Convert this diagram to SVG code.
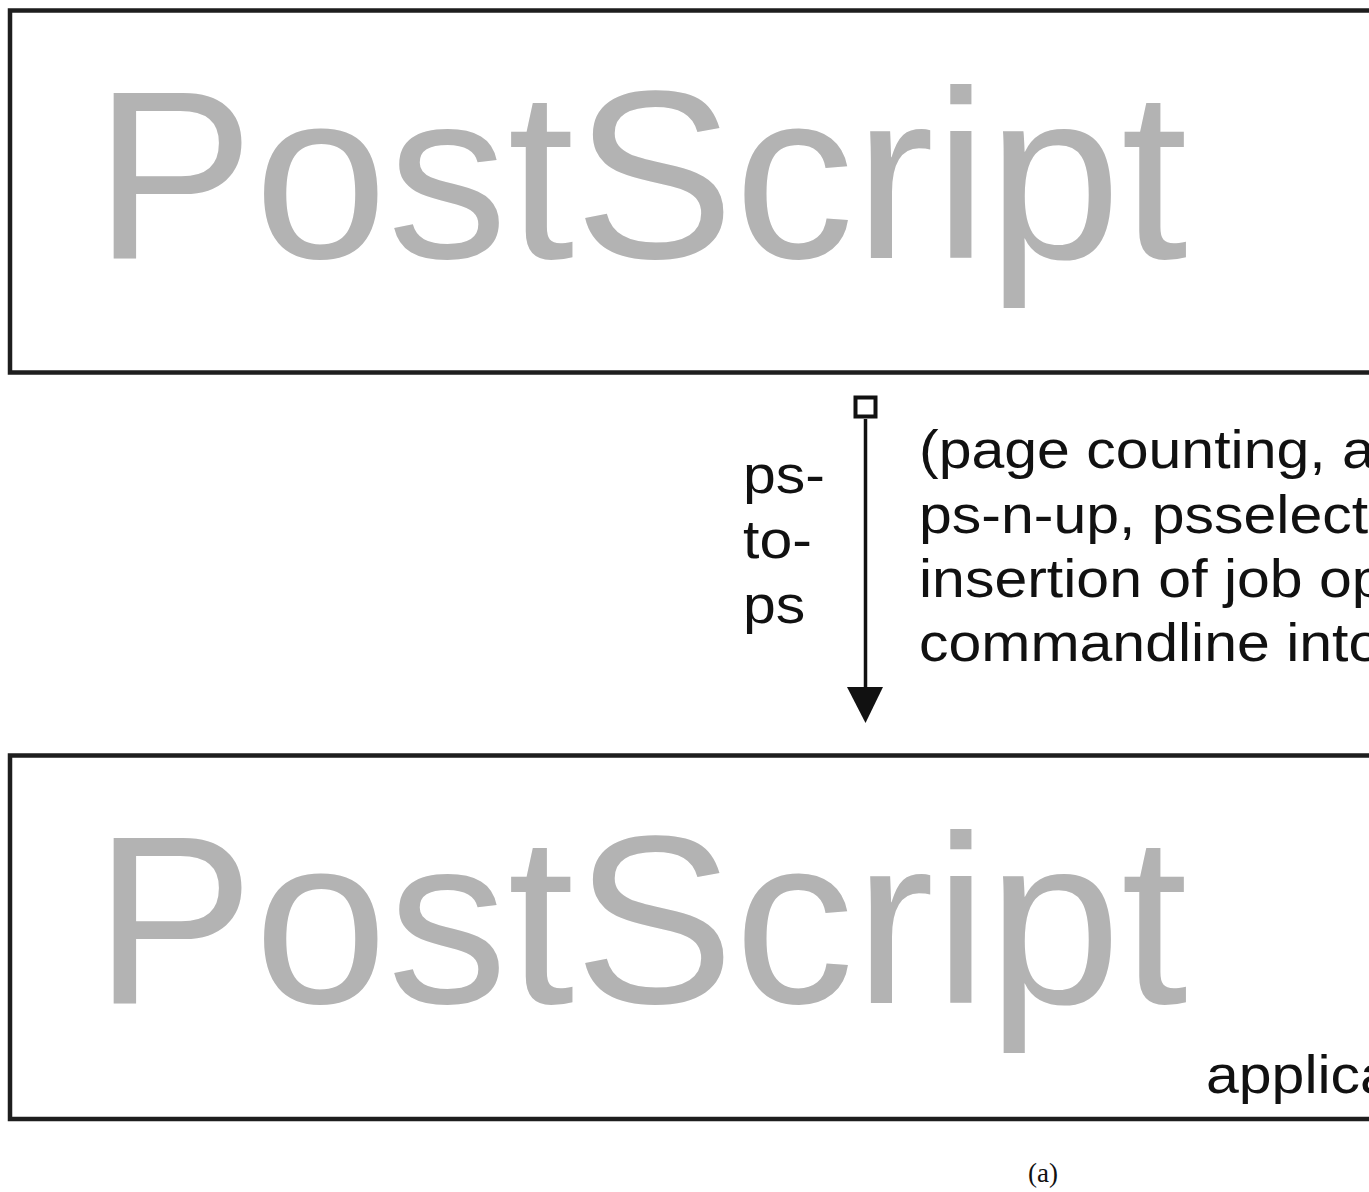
<svg xmlns="http://www.w3.org/2000/svg" width="1369" height="1192" viewBox="0 0 1369 1192">
<defs>
<style>
.box{fill:#fff;stroke:#1e1e1e;stroke-width:4.5}
.big{font-family:"Liberation Sans",Arial,sans-serif;font-size:240px;fill:#b3b3b3}
.lbl{font-family:"Liberation Sans",Arial,sans-serif;font-size:59px;fill:#111}
.cap{font-family:"Liberation Serif","Times New Roman",serif;font-size:27px;fill:#111}
</style>
</defs>
<rect width="1369" height="1192" fill="#fff"/>
<g id="ps-top">
<rect class="box" x="10" y="10.5" width="1400" height="362"/>
<text class="big" x="94" y="258">PostScript</text>
</g>
<g id="ps-bottom">
<rect class="box" x="10" y="755.5" width="1400" height="363.5"/>
<text class="big" x="94" y="1003">PostScript</text>
<text class="lbl" transform="translate(1206,1093) scale(1,0.92)">applica</text>
</g>
<g id="connectors">
<rect x="855.5" y="397.5" width="20" height="19" fill="#fff" stroke="#111" stroke-width="4"/>
<line x1="865.5" y1="419" x2="865.5" y2="690" stroke="#111" stroke-width="3.5"/>
<polygon points="847,687 883,687 865.5,723" fill="#111"/>
<g id="label-left">
<text class="lbl" transform="translate(743,493) scale(1,0.92)">ps-</text>
<text class="lbl" transform="translate(743,558) scale(1,0.92)">to-</text>
<text class="lbl" transform="translate(743,623) scale(1,0.92)">ps</text>
</g>
<g id="label-right">
<text class="lbl" transform="translate(919,468) scale(1,0.92)">(page counting, a</text>
<text class="lbl" transform="translate(919,533) scale(1,0.92)">ps-n-up, psselect</text>
<text class="lbl" transform="translate(919,597) scale(1,0.92)">insertion of job op</text>
<text class="lbl" transform="translate(919,661) scale(1,0.92)">commandline into</text>
</g>
</g>
<text class="cap" x="1043" y="1182" text-anchor="middle">(a)</text>
</svg>
